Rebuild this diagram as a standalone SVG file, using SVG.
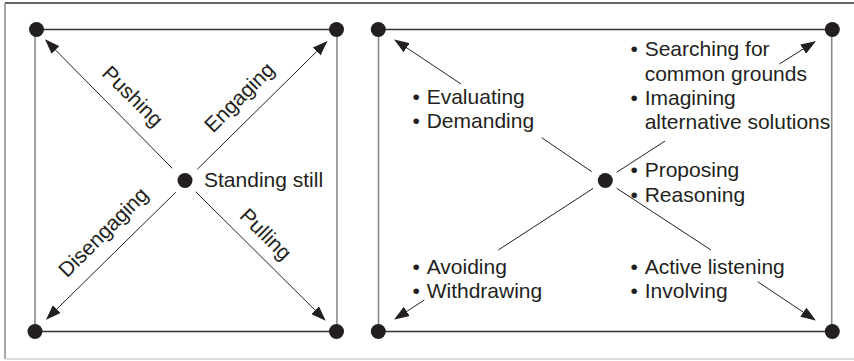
<svg xmlns="http://www.w3.org/2000/svg" width="854" height="361" viewBox="0 0 854 361">
  <style>
    .lbl { font-family: "Liberation Sans", Arial, Helvetica, sans-serif; font-size: 21px; fill: #231f20; }
    .rot { text-anchor: middle; }
    .edge-h { stroke: #333; stroke-width: 1.5; }
    .edge-v { stroke: #8a8a8a; stroke-width: 1.6; }
    .ray { stroke: #231f20; stroke-width: 1; fill: none; }
    .arrow { marker-end: url(#head); }
    .dot { fill: #231f20; }
  </style>
  <defs>
    <marker id="head" viewBox="0 0 15 11" markerWidth="15" markerHeight="11" refX="14" refY="5.5" orient="auto" markerUnits="userSpaceOnUse">
      <path d="M0,0 L15,5.5 L0,11 z" fill="#231f20"/>
    </marker>
  </defs>

  <rect width="854" height="361" fill="#fff"/>

  <!-- outer frame -->
  <g id="frame">
    <line x1="5" y1="3" x2="854" y2="3" stroke="#333" stroke-width="1.5"/>
    <line x1="5" y1="3" x2="5" y2="359" stroke="#8a8a8a" stroke-width="1.5"/>
    <line x1="5" y1="359" x2="854" y2="359" stroke="#d0d0d0" stroke-width="1.5"/>
  </g>

  <!-- left square: force directions -->
  <g id="left-square">
    <line class="edge-h" x1="36" y1="29.5" x2="337" y2="29.5"/>
    <line class="edge-h" x1="35" y1="331.5" x2="337" y2="331.5"/>
    <line class="edge-v" x1="35" y1="29.5" x2="35" y2="331.5"/>
    <line class="edge-v" x1="337" y1="29.5" x2="337" y2="331.5"/>
    <circle class="dot" cx="36.5" cy="29.5" r="7.5"/>
    <circle class="dot" cx="336.5" cy="29.5" r="7.5"/>
    <circle class="dot" cx="35" cy="331.5" r="7.5"/>
    <circle class="dot" cx="336.5" cy="331.5" r="7.5"/>
  </g>

  <g id="left-connectors">
    <line class="ray arrow" x1="172.3" y1="168.3" x2="45.7" y2="40"/>
    <line class="ray arrow" x1="197.3" y1="169.3" x2="326.7" y2="41.7"/>
    <line class="ray arrow" x1="175.7" y1="192.3" x2="46.7" y2="319"/>
    <line class="ray arrow" x1="195.7" y1="191.7" x2="325" y2="320"/>
  </g>

  <g id="left-center">
    <circle class="dot" cx="185" cy="180.5" r="7.5"/>
    <text class="lbl" x="204" y="187">Standing still</text>
  </g>

  <g id="left-labels">
    <text class="lbl rot" transform="translate(127.7,101.3) rotate(45)">Pushing</text>
    <text class="lbl rot" transform="translate(244.3,102.3) rotate(-45)">Engaging</text>
    <text class="lbl rot" transform="translate(108.3,237.3) rotate(-45)">Disengaging</text>
    <text class="lbl rot" transform="translate(260.7,239.3) rotate(45)">Pulling</text>
  </g>

  <!-- right square: behaviours -->
  <g id="right-square">
    <line class="edge-h" x1="378" y1="29.5" x2="832" y2="29.5"/>
    <line class="edge-h" x1="378" y1="331.5" x2="832" y2="331.5"/>
    <line class="edge-v" x1="378.5" y1="29.5" x2="378.5" y2="331.5"/>
    <line class="edge-v" x1="831.7" y1="29.5" x2="831.7" y2="331.5"/>
    <circle class="dot" cx="378.3" cy="29.5" r="7.5"/>
    <circle class="dot" cx="832.3" cy="29.5" r="7.5"/>
    <circle class="dot" cx="378.3" cy="331.5" r="7.5"/>
    <circle class="dot" cx="832.3" cy="331.5" r="7.5"/>
  </g>

  <g id="right-connectors">
    <line class="ray arrow" x1="461" y1="84" x2="395" y2="40"/>
    <line class="ray" x1="591.7" y1="171.7" x2="541.7" y2="137.7"/>
    <line class="ray" x1="616.7" y1="172.3" x2="665" y2="141"/>
    <line class="ray arrow" x1="779.3" y1="64" x2="815" y2="41.7"/>
    <line class="ray" x1="593.3" y1="188.3" x2="498.3" y2="250"/>
    <line class="ray arrow" x1="424.3" y1="300" x2="395" y2="319"/>
    <line class="ray" x1="616.7" y1="188.3" x2="711" y2="250"/>
    <line class="ray arrow" x1="757.7" y1="281.7" x2="815" y2="320"/>
  </g>

  <g id="right-center">
    <circle class="dot" cx="605.3" cy="180.5" r="7.5"/>
  </g>

  <g id="list-top-left">
    <text class="lbl"><tspan x="412.4" y="104.3">•</tspan><tspan x="426.7" y="104.3">Evaluating</tspan></text>
    <text class="lbl"><tspan x="412.4" y="128.3">•</tspan><tspan x="426.7" y="128.3">Demanding</tspan></text>
  </g>

  <g id="list-top-right">
    <text class="lbl"><tspan x="630.4" y="56">•</tspan><tspan x="644.7" y="56">Searching for</tspan></text>
    <text class="lbl" x="644.7" y="80.5">common grounds</text>
    <text class="lbl"><tspan x="630.4" y="104.5">•</tspan><tspan x="644.7" y="104.5">Imagining</tspan></text>
    <text class="lbl" x="644.7" y="128.5">alternative solutions</text>
  </g>

  <g id="list-middle-right">
    <text class="lbl"><tspan x="630.4" y="177">•</tspan><tspan x="644.7" y="177">Proposing</tspan></text>
    <text class="lbl"><tspan x="630.4" y="201.5">•</tspan><tspan x="644.7" y="201.5">Reasoning</tspan></text>
  </g>

  <g id="list-bottom-left">
    <text class="lbl"><tspan x="412.4" y="274">•</tspan><tspan x="426.7" y="274">Avoiding</tspan></text>
    <text class="lbl"><tspan x="412.4" y="298">•</tspan><tspan x="426.7" y="298">Withdrawing</tspan></text>
  </g>

  <g id="list-bottom-right">
    <text class="lbl"><tspan x="630.4" y="274">•</tspan><tspan x="644.7" y="274">Active listening</tspan></text>
    <text class="lbl"><tspan x="630.4" y="298">•</tspan><tspan x="644.7" y="298">Involving</tspan></text>
  </g>
</svg>
